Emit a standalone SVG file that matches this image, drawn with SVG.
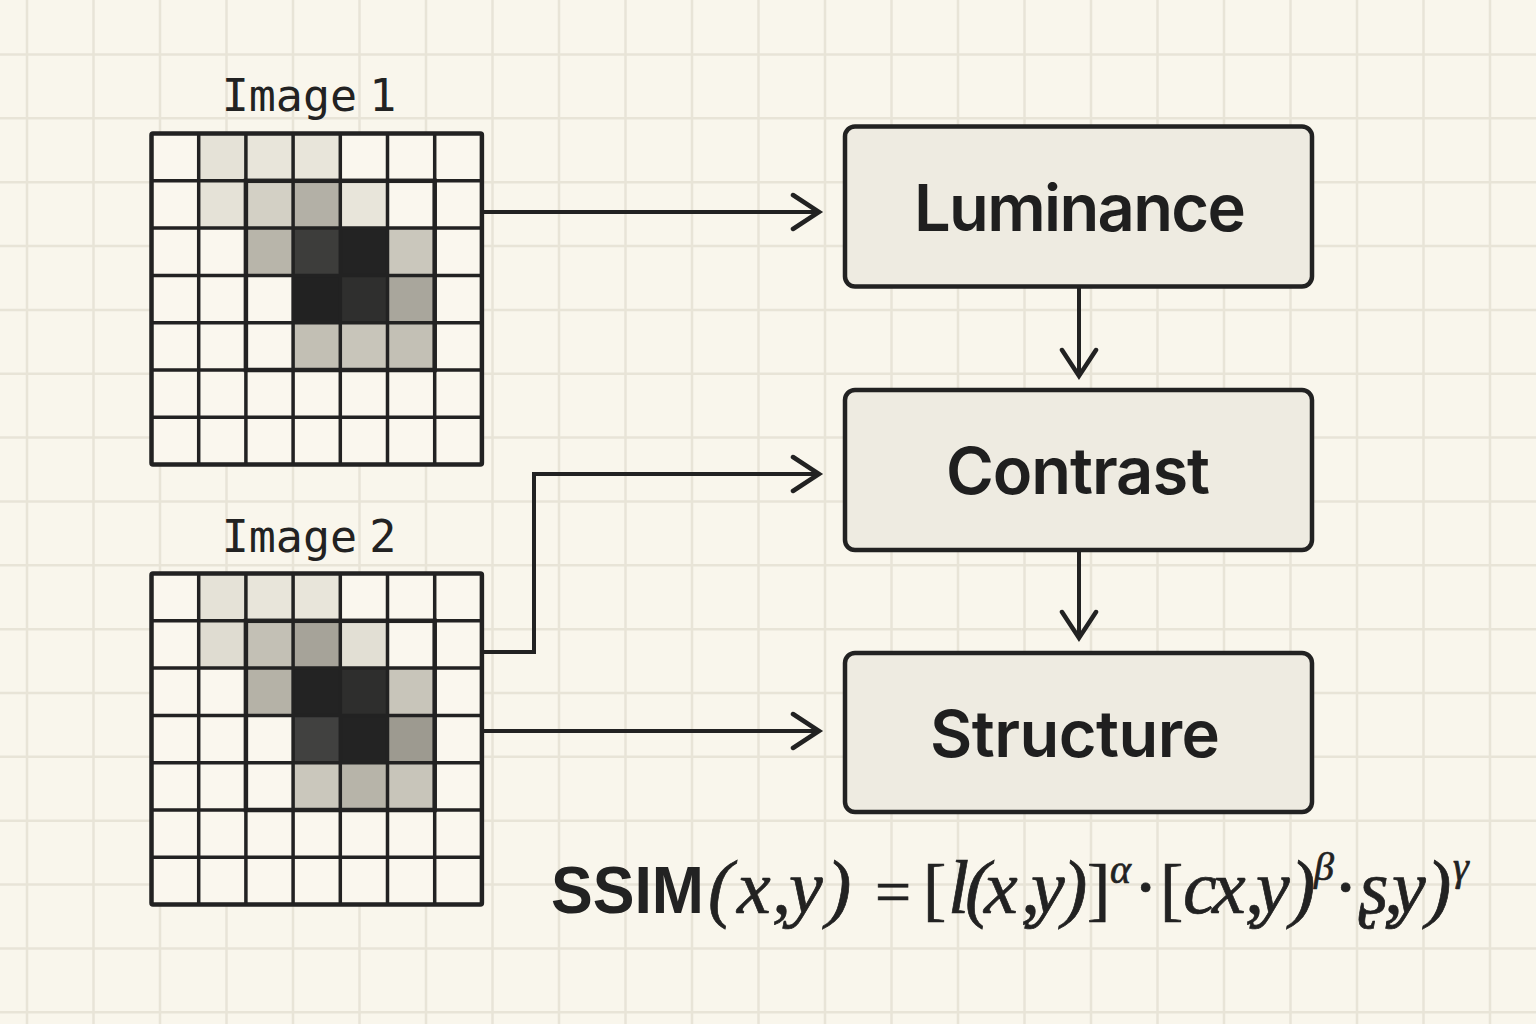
<svg xmlns="http://www.w3.org/2000/svg" xmlns:xlink="http://www.w3.org/1999/xlink" width="1536" height="1024" viewBox="0 0 1536 1024">
<style>
.bgline{stroke:#e8e4d7;stroke-width:2.5;fill:none}
.lbl{font-family:"DejaVu Sans Mono",monospace;font-size:45px;fill:#222;text-anchor:middle;word-spacing:-15px}
.grid-outer{fill:none;stroke:#222;stroke-width:4.5}
.grid-inner{fill:none;stroke:#222;stroke-width:3.5}
.grid-hi{fill:none;stroke:#222;stroke-width:4.5}
.box{fill:#eeebe1;stroke:#222;stroke-width:4.5}
.boxtxt{font-family:Inter,"Noto Sans",sans-serif;font-weight:600;font-size:65px;fill:#1f1f1f;text-anchor:start}
.conn{fill:none;stroke:#222;stroke-width:4;stroke-linejoin:miter}
.m{font-family:"Liberation Serif","DejaVu Serif",serif;font-style:italic;font-size:76px;fill:#222;stroke:#222;stroke-width:0.7}
.u{font-style:normal;font-size:76px}
.br{font-style:normal;font-size:70px}
.eq{font-style:normal;font-size:64px}
.sup{font-style:italic;font-size:40px}
</style>
<defs>
<marker id="arr" markerUnits="userSpaceOnUse" markerWidth="40" markerHeight="40" viewBox="-30 -20 34 40" refX="0" refY="0" orient="auto">
<path d="M-26,-17 L0,0 L-26,17" fill="none" stroke="#222" stroke-width="4.5" stroke-linecap="round" stroke-linejoin="miter"/>
</marker>
<g id="gridlines">
<path class="grid-inner" d="M198.7,133.5V464.6M245.9,133.5V464.6M293.1,133.5V464.6M340.3,133.5V464.6M387.5,133.5V464.6M434.7,133.5V464.6M151.5,180.8H481.9M151.5,228.1H481.9M151.5,275.4H481.9M151.5,322.7H481.9M151.5,370H481.9M151.5,417.3H481.9"/>
<rect class="grid-hi" x="245.9" y="180.8" width="188.8" height="189.2"/>
<rect class="grid-outer" x="151.5" y="133.5" width="330.4" height="331.1" rx="1.5"/>
</g>
</defs>
<rect width="1536" height="1024" fill="#f9f6ec"/>
<path class="bgline" d="M27,0V1024M93.5,0V1024M160,0V1024M226.5,0V1024M293,0V1024M359.5,0V1024M426,0V1024M492.5,0V1024M559,0V1024M625.5,0V1024M692,0V1024M758.5,0V1024M825,0V1024M891.5,0V1024M958,0V1024M1024.5,0V1024M1091,0V1024M1157.5,0V1024M1224,0V1024M1290.5,0V1024M1357,0V1024M1423.5,0V1024M1490,0V1024M0,54.5H1536M0,118.35H1536M0,182.2H1536M0,246.05H1536M0,309.9H1536M0,373.75H1536M0,437.6H1536M0,501.45H1536M0,565.3H1536M0,629.15H1536M0,693H1536M0,756.85H1536M0,820.7H1536M0,884.55H1536M0,948.4H1536M0,1012.25H1536"/>

<g id="image1">
<text class="lbl" x="309" y="111">Image 1</text>
<rect x="151.5" y="133.5" width="330.4" height="331.1" fill="#faf7ee"/>
<rect x="198.7" y="133.5" width="47.2" height="47.3" fill="#e5e2d7"/>
<rect x="245.9" y="133.5" width="47.2" height="47.3" fill="#e8e5da"/>
<rect x="293.1" y="133.5" width="47.2" height="47.3" fill="#e8e5da"/>
<rect x="198.7" y="180.8" width="47.2" height="47.3" fill="#e5e2d7"/>
<rect x="245.9" y="180.8" width="47.2" height="47.3" fill="#d3d0c5"/>
<rect x="293.1" y="180.8" width="47.2" height="47.3" fill="#b3b0a6"/>
<rect x="340.3" y="180.8" width="47.2" height="47.3" fill="#e8e5da"/>
<rect x="245.9" y="228.1" width="47.2" height="47.3" fill="#b8b5aa"/>
<rect x="293.1" y="228.1" width="47.2" height="47.3" fill="#3d3d3b"/>
<rect x="340.3" y="228.1" width="47.2" height="47.3" fill="#232323"/>
<rect x="387.5" y="228.1" width="47.2" height="47.3" fill="#cac7bc"/>
<rect x="293.1" y="275.4" width="47.2" height="47.3" fill="#222222"/>
<rect x="340.3" y="275.4" width="47.2" height="47.3" fill="#2f2f2e"/>
<rect x="387.5" y="275.4" width="47.2" height="47.3" fill="#a9a69c"/>
<rect x="293.1" y="322.7" width="47.2" height="47.3" fill="#c2bfb4"/>
<rect x="340.3" y="322.7" width="47.2" height="47.3" fill="#c8c5ba"/>
<rect x="387.5" y="322.7" width="47.2" height="47.3" fill="#c3c0b5"/>
<use xlink:href="#gridlines"/>
</g>

<g id="image2">
<text class="lbl" x="309" y="552">Image 2</text>
<rect x="151.5" y="573.5" width="330.4" height="331.1" fill="#faf7ee"/>
<rect x="198.7" y="573.5" width="47.2" height="47.3" fill="#e5e2d7"/>
<rect x="245.9" y="573.5" width="47.2" height="47.3" fill="#e8e5da"/>
<rect x="293.1" y="573.5" width="47.2" height="47.3" fill="#e8e5da"/>
<rect x="198.7" y="620.8" width="47.2" height="47.3" fill="#dfdcd1"/>
<rect x="245.9" y="620.8" width="47.2" height="47.3" fill="#c3c0b5"/>
<rect x="293.1" y="620.8" width="47.2" height="47.3" fill="#a6a399"/>
<rect x="340.3" y="620.8" width="47.2" height="47.3" fill="#e2dfd4"/>
<rect x="245.9" y="668.1" width="47.2" height="47.3" fill="#b5b2a7"/>
<rect x="293.1" y="668.1" width="47.2" height="47.3" fill="#232323"/>
<rect x="340.3" y="668.1" width="47.2" height="47.3" fill="#2e2e2d"/>
<rect x="387.5" y="668.1" width="47.2" height="47.3" fill="#c8c5ba"/>
<rect x="293.1" y="715.4" width="47.2" height="47.3" fill="#414140"/>
<rect x="340.3" y="715.4" width="47.2" height="47.3" fill="#232323"/>
<rect x="387.5" y="715.4" width="47.2" height="47.3" fill="#9d9a90"/>
<rect x="293.1" y="762.7" width="47.2" height="47.3" fill="#cac7bc"/>
<rect x="340.3" y="762.7" width="47.2" height="47.3" fill="#b7b4a9"/>
<rect x="387.5" y="762.7" width="47.2" height="47.3" fill="#c8c5ba"/>
<use xlink:href="#gridlines" y="440"/>
</g>

<g id="luminance">
<rect class="box" x="845" y="126.5" width="467" height="160" rx="10"/>
<text class="boxtxt" x="914" y="231" textLength="332">Luminance</text>
</g>
<g id="contrast">
<rect class="box" x="845" y="390" width="467" height="160" rx="10"/>
<text class="boxtxt" x="946" y="494" textLength="264">Contrast</text>
</g>
<g id="structure">
<rect class="box" x="845" y="653" width="467" height="159" rx="10"/>
<text class="boxtxt" x="930" y="757" textLength="290">Structure</text>
</g>

<g id="connectors">
<path class="conn" d="M482,212 H819" marker-end="url(#arr)"/>
<path class="conn" d="M482,652 H534 V474 H819" marker-end="url(#arr)"/>
<path class="conn" d="M482,731 H819" marker-end="url(#arr)"/>
<path class="conn" d="M1079,287 V376" marker-end="url(#arr)"/>
<path class="conn" d="M1079,550 V638" marker-end="url(#arr)"/>
</g>

<g id="formula">
<text x="551" y="913" font-family="'Liberation Sans',Arial,sans-serif" font-weight="bold" font-size="66" fill="#222" textLength="153" lengthAdjust="spacingAndGlyphs">SSIM</text>
<text class="m" y="913"><tspan x="708 737 772 784 789 826">(x, y)</tspan><tspan class="eq" x="875">=</tspan><tspan class="br" x="923">[</tspan><tspan x="948 965 984 1021 1031 1062">l(x,y)</tspan><tspan class="br" x="1087">]</tspan><tspan class="sup" x="1110" y="883">α</tspan><tspan class="u" x="1133" y="913">·</tspan><tspan class="br" x="1160">[</tspan><tspan x="1183 1212 1245 1256 1290">cx,y)</tspan><tspan class="sup" x="1314" y="880">β</tspan><tspan class="u" x="1333" y="913">·</tspan><tspan x="1359 1384 1392 1426">ʂ,y)</tspan><tspan class="sup" x="1453" y="880">γ</tspan></text>
</g>
</svg>
